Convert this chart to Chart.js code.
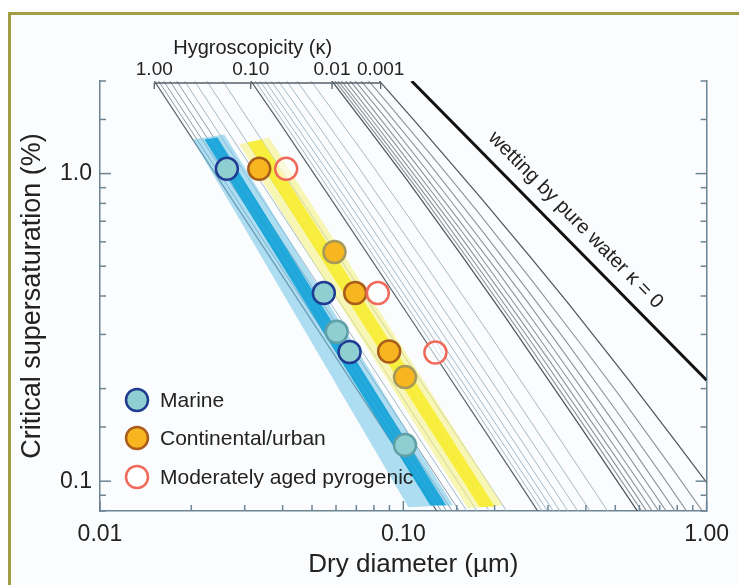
<!DOCTYPE html>
<html>
<head>
<meta charset="utf-8">
<script src="https://cdn.jsdelivr.net/npm/chart.js@4.4.1/dist/chart.umd.min.js"></script>
<style>
  body { margin: 0; background: #fff; }
</style>
</head>
<body>
<canvas id="chart" width="739" height="585"></canvas>
<script>
// axis ranges and tick labels
const xRange = [0.01, 1];
const yRange = [0.08, 2];
const xLabelValues = [0.01, 0.1, 1];
const xLabelText = ['0.01', '0.10', '1.00'];
const yLabelValues = [0.1, 1];
const yLabelText = ['0.1', '1.0'];

// top hygroscopicity axis: where the kappa lines leave the top edge
const kappaTickD = [0.0151, 0.0314, 0.0582, 0.0842];
const kappaTickText = ['1.00', '0.10', '0.01', '0.001'];

// kappa isolines, [dry diameter (um), critical supersaturation (%)]
const kappaOne = [[0.0151, 2], [0.129, 0.08]];
const highLines = [
    [[0.0156, 2], [0.1335, 0.08]],
    [[0.0162, 2], [0.139, 0.08]],
    [[0.0170, 2], [0.145, 0.08]],
    [[0.0179, 2], [0.153, 0.08]],
    [[0.0190, 2], [0.162, 0.08]],
    [[0.0205, 2], [0.175, 0.08]],
    [[0.0225, 2], [0.192, 0.08]],
    [[0.0254, 2], [0.219, 0.08]]
];
const kappaTenth = [[0.0214, 3.47], [0.0383, 1.508], [0.0584, 0.814], [0.1085, 0.325], [0.2497, 0.0937], [0.6986, 0.02]];
const midLines = [
    [[0.0238, 3.123], [0.0426, 1.357], [0.0649, 0.733], [0.1206, 0.2925], [0.2774, 0.0843], [0.776, 0.018]],
    [[0.0268, 2.776], [0.0479, 1.206], [0.073, 0.651], [0.1356, 0.26], [0.3121, 0.075]],
    [[0.0306, 2.429], [0.0548, 1.056], [0.0834, 0.570], [0.155, 0.2275], [0.3567, 0.0656]],
    [[0.026, 3.252], [0.0357, 2.082], [0.0639, 0.905], [0.0973, 0.488], [0.1808, 0.195], [0.4162, 0.0562]],
    [[0.0311, 2.71], [0.0429, 1.735], [0.0767, 0.754], [0.1168, 0.407], [0.217, 0.1625], [0.4994, 0.0469]],
    [[0.0256, 3.84], [0.0389, 2.168], [0.0536, 1.388], [0.0958, 0.6032], [0.146, 0.3256], [0.2713, 0.13], [0.6243, 0.0375]],
    [[0.0341, 2.88], [0.0519, 1.626], [0.0715, 1.041], [0.1278, 0.4524], [0.1947, 0.2442], [0.3617, 0.0975], [0.8323, 0.0281]],
    [[0.039, 2.74], [0.0512, 1.92], [0.0779, 1.084], [0.1072, 0.694], [0.1917, 0.3016], [0.292, 0.1628], [0.5425, 0.065]]
];
const kappaHundredth = [[0.0351, 3.77], [0.0554, 2.13], [0.078, 1.37], [0.1024, 0.96], [0.1557, 0.542], [0.2144, 0.347], [0.3833, 0.1508], [0.584, 0.0814], [1.085, 0.0325]];
const lowLines = [
    [[0.039, 3.393], [0.0616, 1.917], [0.0867, 1.233], [0.1138, 0.864], [0.173, 0.4878], [0.2382, 0.3123], [0.4259, 0.1357], [0.6489, 0.0733], [1.206, 0.02925]],
    [[0.0439, 3.016], [0.0693, 1.704], [0.0975, 1.096], [0.128, 0.768], [0.1946, 0.4336], [0.268, 0.2776], [0.4791, 0.1206], [0.73, 0.0651], [1.356, 0.026]],
    [[0.0501, 2.639], [0.0791, 1.491], [0.1114, 0.959], [0.1463, 0.672], [0.2224, 0.3794], [0.3063, 0.2429], [0.5476, 0.1056], [0.834, 0.057]],
    [[0.0434, 3.24], [0.0585, 2.262], [0.0923, 1.278], [0.13, 0.822], [0.1707, 0.576], [0.2595, 0.325], [0.3573, 0.2082], [0.639, 0.0905], [0.973, 0.0488]],
    [[0.0521, 2.70], [0.0702, 1.885], [0.1108, 1.065], [0.156, 0.685], [0.2048, 0.48], [0.3114, 0.271], [0.4288, 0.1735], [0.7666, 0.0754], [1.168, 0.0407]],
    [[0.0448, 3.36], [0.0651, 2.16], [0.0878, 1.508], [0.1385, 0.852], [0.195, 0.548], [0.256, 0.384], [0.389, 0.2168], [0.536, 0.1388], [0.958, 0.0603], [1.46, 0.0326]],
    [[0.0362, 4.47], [0.0597, 2.52], [0.0868, 1.62], [0.117, 1.131], [0.1847, 0.639], [0.26, 0.411], [0.3413, 0.288], [0.519, 0.1626], [0.7147, 0.1041], [1.278, 0.0452]],
    [[0.0421, 3.96], [0.0543, 2.98], [0.0895, 1.68], [0.1302, 1.08], [0.1755, 0.754], [0.277, 0.426], [0.39, 0.274], [0.512, 0.192], [0.7785, 0.1084], [1.072, 0.0694]]
];
const kappaThousandth = [[0.0524, 3.34], [0.0842, 1.98], [0.1086, 1.49], [0.179, 0.84], [0.2604, 0.54], [0.351, 0.377], [0.554, 0.213], [0.78, 0.137], [1.024, 0.096]];
const waterLine = [[0.1065, 2], [1.0, 0.213]];

// shaded kappa ranges (outline corners)
const marineBand = [[0.0202, 1.29], [0.0257, 1.34], [0.1459, 0.0835], [0.1039, 0.0823]];
const marineCore = [[0.0221, 1.29], [0.0244, 1.31], [0.1384, 0.0835], [0.1226, 0.0835]];
const urbanBand = [[0.0288, 1.243], [0.0361, 1.31], [0.2128, 0.0835], [0.1633, 0.0817]];
const urbanCore = [[0.0306, 1.262], [0.0340, 1.29], [0.2002, 0.0828], [0.1788, 0.0823]];

// measurements
const seriesNames = ['Marine', 'Continental/urban', 'Moderately aged pyrogenic'];
const marineD = [0.0262, 0.0547, 0.0665, 0.0603, 0.1013];
const marineS = [1.036, 0.409, 0.263, 0.306, 0.131];
const marineRim = [true, true, true, false, false];
const urbanD = [0.0335, 0.0694, 0.0898, 0.0593, 0.1013];
const urbanS = [1.036, 0.409, 0.264, 0.556, 0.218];
const urbanRim = [true, true, true, false, false];
const pyroD = [0.0411, 0.0824, 0.1276];
const pyroS = [1.036, 0.409, 0.262];

const FONT = '"Liberation Sans", Arial, Helvetica, sans-serif';
const TEXT = '#222';
const AXIS = '#6c8494';

const toXY = pts => pts.map(p => ({x: p[0], y: p[1]}));
const zip = (xs, ys) => xs.map((x, i) => ({x: x, y: ys[i]}));

function isoline(pts, color, width, order) {
    return {
        data: toXY(pts), showLine: true, pointRadius: 0, borderColor: color,
        borderWidth: width, fill: false, tension: 0, order: order
    };
}

function band(pts, color, order) {
    const ring = pts.concat([pts[0]]);
    return {
        data: toXY(ring), showLine: true, pointRadius: 0, borderWidth: 0,
        borderColor: 'rgba(0,0,0,0)', backgroundColor: color, fill: 'shape', order: order
    };
}

const datasets = [];
highLines.forEach((l, i) => datasets.push(isoline(l, i < 4 ? '#8e9ca6' : '#a4b9c8', 1, 20)));
midLines.forEach(l => datasets.push(isoline(l, '#a4b9c8', 1, 20)));
lowLines.forEach(l => datasets.push(isoline(l, '#8c959b', 1.1, 20)));
datasets.push(isoline(kappaOne, '#5e6a72', 1.3, 19));
datasets.push(isoline(kappaTenth, '#5e6a72', 1.3, 19));
datasets.push(isoline(kappaHundredth, '#4f5a62', 1.3, 19));
datasets.push(isoline(kappaThousandth, '#4f5a62', 1.3, 19));
datasets.push(isoline(waterLine, '#111', 3, 18));
datasets.push(band(marineBand, 'rgba(110,195,232,0.55)', 12));
datasets.push(band(marineCore, 'rgba(10,160,215,0.85)', 11));
datasets.push(band(urbanBand, 'rgba(245,240,120,0.55)', 12));
datasets.push(band(urbanCore, 'rgba(248,236,40,0.85)', 11));

const seriesStyle = [
    {fill: '#8fcfd2', rim: '#1f3c92', faint: '#5f9fa6'},
    {fill: '#f7b520', rim: '#a95e1c', faint: '#a59a5a'},
    {fill: 'rgba(255,255,255,0.55)', rim: '#ef6a5a', faint: '#ef6a5a'}
];

datasets.push({
    label: seriesNames[0], data: zip(marineD, marineS), showLine: false,
    pointRadius: 11, pointBorderWidth: 2.5, pointBackgroundColor: seriesStyle[0].fill,
    pointBorderColor: c => marineRim[c.dataIndex] ? seriesStyle[0].rim : seriesStyle[0].faint, order: 2
});
datasets.push({
    label: seriesNames[1], data: zip(urbanD, urbanS), showLine: false,
    pointRadius: 11, pointBorderWidth: 2.5, pointBackgroundColor: seriesStyle[1].fill,
    pointBorderColor: c => urbanRim[c.dataIndex] ? seriesStyle[1].rim : seriesStyle[1].faint, order: 1
});
datasets.push({
    label: seriesNames[2], data: zip(pyroD, pyroS), showLine: false,
    pointRadius: 11, pointBorderWidth: 2.5, pointBackgroundColor: seriesStyle[2].fill,
    pointBorderColor: seriesStyle[2].rim, order: 0
});

function labelFor(values, texts) {
    return v => {
        const i = values.findIndex(t => Math.abs(t - v) / t < 1e-6);
        return i >= 0 ? texts[i] : '';
    };
}

const isMajor = v => Math.abs(Math.log10(v) - Math.round(Math.log10(v))) < 1e-6;

const decor = {
    id: 'decor',
    beforeDraw(chart) {
        const ctx = chart.ctx;
        ctx.save();
        ctx.fillStyle = '#ffffff';
        ctx.fillRect(0, 0, chart.width, chart.height);
        ctx.fillStyle = '#fbfcfd';
        ctx.fillRect(10, 15, chart.width - 10, chart.height - 15);
        ctx.strokeStyle = '#a09d45';
        ctx.lineWidth = 3;
        ctx.beginPath();
        ctx.moveTo(9.5, chart.height);
        ctx.lineTo(9.5, 13.5);
        ctx.lineTo(chart.width, 13.5);
        ctx.stroke();
        ctx.restore();
    },
    afterDraw(chart) {
        const ctx = chart.ctx;
        const xs = chart.scales.x, ys = chart.scales.y;
        const {left, right, bottom} = chart.chartArea;
        ctx.save();
        ctx.strokeStyle = AXIS;
        ctx.lineWidth = 1.5;
        // tick marks pointing into the plot
        xs.ticks.forEach(t => {
            const px = xs.getPixelForValue(t.value);
            const len = isMajor(t.value) ? 10 : 6;
            ctx.beginPath(); ctx.moveTo(px, bottom); ctx.lineTo(px, bottom - len); ctx.stroke();
        });
        ys.ticks.forEach(t => {
            const py = ys.getPixelForValue(t.value);
            const len = isMajor(t.value) ? 11 : 6;
            ctx.beginPath(); ctx.moveTo(left, py); ctx.lineTo(left + len, py); ctx.stroke();
            ctx.beginPath(); ctx.moveTo(right, py); ctx.lineTo(right - len, py); ctx.stroke();
        });

        // x axis title, sitting a little right of centre as in the figure
        ctx.fillStyle = TEXT;
        ctx.textAlign = 'center';
        ctx.textBaseline = 'middle';
        ctx.font = '26px ' + FONT;
        ctx.fillText('Dry diameter (\u00B5m)', (left + right) / 2 + 10, bottom + 54);

        // hygroscopicity axis along the top
        const yk = ys.getPixelForValue(yRange[1]) + 2;
        const kx = kappaTickD.map(d => xs.getPixelForValue(d));
        ctx.strokeStyle = '#55616a';
        ctx.lineWidth = 1.3;
        ctx.beginPath(); ctx.moveTo(kx[0], yk); ctx.lineTo(kx[kx.length - 1], yk); ctx.stroke();
        kx.forEach(p => { ctx.beginPath(); ctx.moveTo(p, yk); ctx.lineTo(p, yk + 6); ctx.stroke(); });
        ctx.font = '19px ' + FONT;
        kappaTickText.forEach((t, i) => ctx.fillText(t, kx[i], yk - 13));
        ctx.font = '20px ' + FONT;
        ctx.fillText('Hygroscopicity (\u03BA)', kx[1] + 2, yk - 35);

        // label along the pure water line
        const p0 = {x: xs.getPixelForValue(waterLine[0][0]), y: ys.getPixelForValue(waterLine[0][1])};
        const p1 = {x: xs.getPixelForValue(waterLine[1][0]), y: ys.getPixelForValue(waterLine[1][1])};
        const ang = Math.atan2(p1.y - p0.y, p1.x - p0.x);
        const f = 0.51;
        const cx = p0.x + (p1.x - p0.x) * f + Math.sin(ang) * 19;
        const cy = p0.y + (p1.y - p0.y) * f - Math.cos(ang) * 19;
        ctx.save();
        ctx.translate(cx, cy);
        ctx.rotate(ang);
        ctx.font = '20px ' + FONT;
        ctx.fillText('wetting by pure water \u03BA = 0', 0, 0);
        ctx.restore();

        // legend inside the plot, lower left
        ctx.textAlign = 'left';
        ctx.font = '21px ' + FONT;
        const rows = [bottom - 111, bottom - 73, bottom - 34];
        seriesNames.forEach((name, i) => {
            const st = seriesStyle[i];
            ctx.beginPath();
            ctx.arc(left + 37, rows[i], 11, 0, Math.PI * 2);
            ctx.fillStyle = i === 2 ? '#ffffff' : st.fill;
            ctx.fill();
            ctx.lineWidth = 2.5;
            ctx.strokeStyle = st.rim;
            ctx.stroke();
            ctx.fillStyle = TEXT;
            ctx.fillText(name, left + 60, rows[i] + 1);
        });
        ctx.restore();
    }
};

new Chart(document.getElementById('chart'), {
    type: 'scatter',
    data: { datasets: datasets },
    options: {
        responsive: false,
        animation: false,
        layout: { padding: { top: 81, left: 0, right: 0, bottom: 0 } },
        plugins: { legend: { display: false }, tooltip: { enabled: false } },
        scales: {
            x: {
                type: 'logarithmic', position: 'bottom', min: xRange[0], max: xRange[1],
                grid: { display: false, drawTicks: false },
                border: { display: true, color: AXIS, width: 1.5 },
                ticks: {
                    autoSkip: false, maxRotation: 0, padding: 10, color: TEXT,
                    font: { size: 23, family: FONT },
                    callback: labelFor(xLabelValues, xLabelText)
                },
                afterFit: s => { s.height = 74; }
            },
            y: {
                type: 'logarithmic', position: 'left', min: yRange[0], max: yRange[1],
                grid: { display: false, drawTicks: false },
                border: { display: true, color: AXIS, width: 1.5 },
                ticks: {
                    autoSkip: false, padding: 8, color: TEXT,
                    font: { size: 23, family: FONT },
                    callback: labelFor(yLabelValues, yLabelText)
                },
                title: {
                    display: true, text: 'Critical supersaturation (%)', color: TEXT,
                    font: { size: 27, family: FONT }, padding: { top: 16, bottom: 0 }
                },
                afterFit: s => { s.width = 100; }
            },
            y2: {
                type: 'logarithmic', position: 'right', min: yRange[0], max: yRange[1],
                grid: { display: false, drawTicks: false },
                border: { display: true, color: AXIS, width: 1.5 },
                ticks: { display: false },
                afterFit: s => { s.width = 29; }
            }
        }
    },
    plugins: [decor]
});
</script>
</body>
</html>
